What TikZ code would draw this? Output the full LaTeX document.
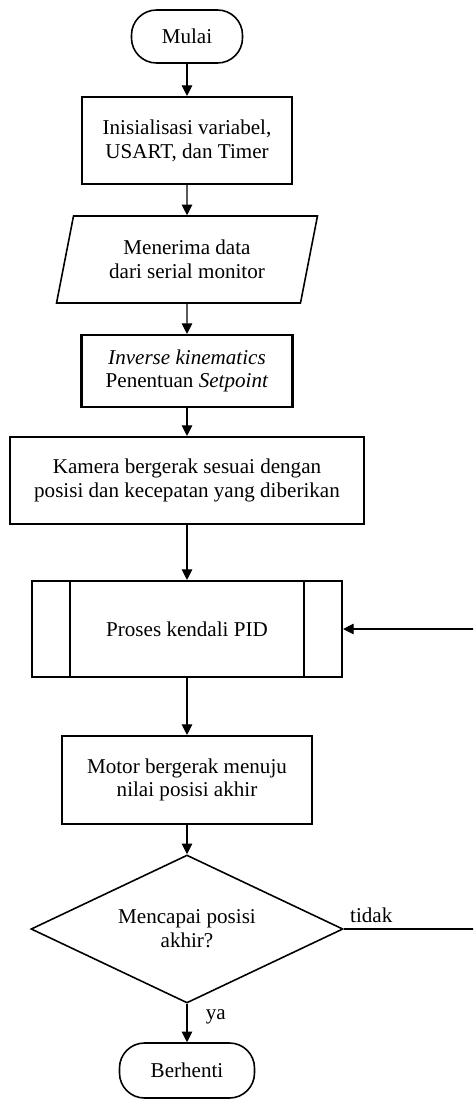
\documentclass[tikz,border=0pt]{standalone}
\usepackage{fontspec}
\setmainfont{Liberation Serif}
\usepackage{tikz}
\usetikzlibrary{positioning,shapes.geometric,arrows.meta}

\tikzset{
    terminal/.style={draw, line width=0.9pt, rectangle, rounded corners=0.5cm, align=center},
    prosesbox/.style={draw, line width=1.2pt, rectangle, align=center},
    inputbox/.style={draw, line width=0.9pt, trapezium, trapezium left angle=76, trapezium right angle=104, trapezium stretches=true, align=center},
    keputusan/.style={draw, line width=0.9pt, diamond, aspect=2.1, inner sep=0pt, align=center},
    panah/.style={line width=0.6pt, -{Triangle[width=6pt,length=6pt]}},
}

\begin{document}
\begin{tikzpicture}[font=\fontsize{12}{13.5}\selectfont]

\useasboundingbox (0,0) rectangle (9.46,-22.02);
\clip (0,0) rectangle (9.46,-22.02);

\node[terminal, minimum width=2.22cm, minimum height=1.06cm] (mulai) at (3.74,-0.73) {Mulai};
\node[prosesbox, minimum width=4.2cm, minimum height=1.74cm] (init) at (3.74,-2.81) {Inisialisasi variabel,\\USART, dan Timer};
\node[inputbox, minimum width=5.22cm, minimum height=1.74cm] (terima) at (3.74,-5.19) {Menerima data\\dari serial monitor};
\node[prosesbox, minimum width=4.22cm, minimum height=1.44cm] (ik) at (3.74,-7.42) {\textit{Inverse kinematics}\\Penentuan \textit{Setpoint}};
\node[prosesbox, minimum width=7.08cm, minimum height=1.74cm] (kamera) at (3.74,-9.61) {Kamera bergerak sesuai dengan\\posisi dan kecepatan yang diberikan};
\node[prosesbox, minimum width=6.2cm, minimum height=1.92cm] (pid) at (3.74,-12.58) {Proses kendali PID};
\node[prosesbox, minimum width=5.0cm, minimum height=1.76cm] (motor) at (3.74,-15.6) {Motor bergerak menuju\\nilai posisi akhir};
\node[keputusan, minimum width=6.24cm, minimum height=2.96cm] (cek) at (3.74,-18.58) {Mencapai posisi\\akhir?};
\node[terminal, minimum width=2.7cm, minimum height=1.1cm] (berhenti) at (3.74,-21.41) {Berhenti};

% garis dalam predefined process
\draw[line width=1.2pt] ([xshift=0.78cm]pid.north west) -- ([xshift=0.78cm]pid.south west);
\draw[line width=1.2pt] ([xshift=-0.78cm]pid.north east) -- ([xshift=-0.78cm]pid.south east);

\draw[panah] (mulai) -- (init);
\draw[panah] (init) -- (terima);
\draw[panah] (terima) -- (ik);
\draw[panah] (ik) -- (kamera);
\draw[panah] (kamera) -- (pid);
\draw[panah] (pid) -- (motor);
\draw[panah] (motor) -- (cek);
\draw[panah] (cek) -- node[right=0.25cm, pos=0.35] {ya} (berhenti);

\coordinate (balik) at (9.7,-18.58);
\draw[panah] (cek.east) node[above right] {tidak} -- (balik) |- (pid.east);

\end{tikzpicture}
\end{document}
